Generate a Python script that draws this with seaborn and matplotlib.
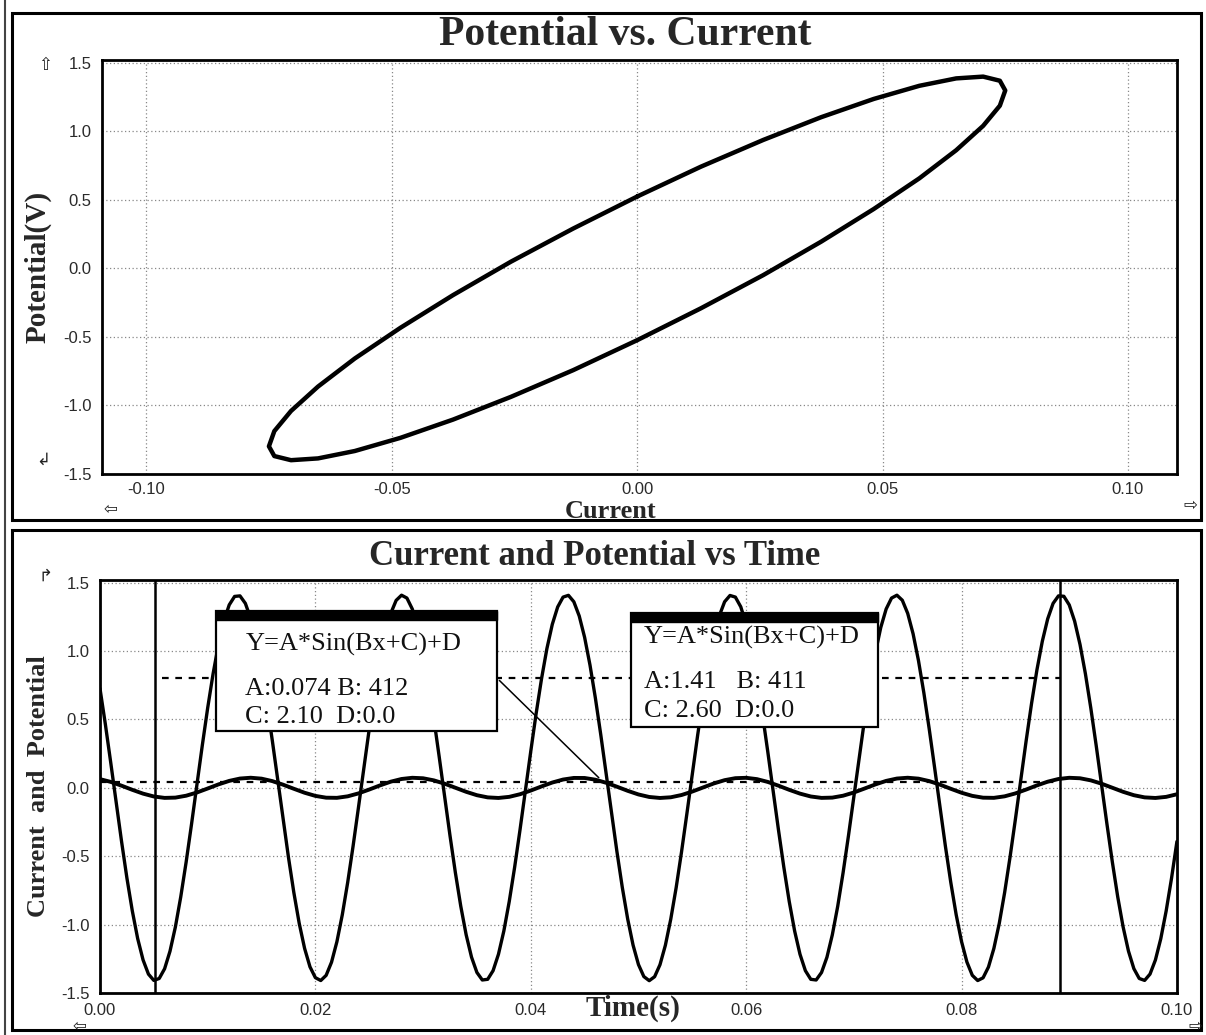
import matplotlib
matplotlib.use("Agg")
import matplotlib.pyplot as plt
from matplotlib.patches import Rectangle
import pandas as pd
import seaborn as sns

# --- top panel: potential vs current loop ---
loop_current = [0.0, 0.0130, 0.0257, 0.0375, 0.0482, 0.0575, 0.0650, 0.0705, 0.0739, 0.0750,
                0.0739, 0.0705, 0.0650, 0.0575, 0.0482, 0.0375, 0.0257, 0.0130, 0.0,
                -0.0130, -0.0257, -0.0375, -0.0482, -0.0575, -0.0650, -0.0705, -0.0739, -0.0750,
                -0.0739, -0.0705, -0.0650, -0.0575, -0.0482, -0.0375, -0.0257, -0.0130, 0.0]
loop_potential = [0.524, 0.742, 0.937, 1.103, 1.236, 1.332, 1.386, 1.399, 1.369, 1.298,
                  1.187, 1.040, 0.862, 0.657, 0.433, 0.195, -0.049, -0.291, -0.524,
                  -0.742, -0.937, -1.103, -1.236, -1.332, -1.386, -1.399, -1.369, -1.298,
                  -1.187, -1.040, -0.862, -0.657, -0.433, -0.195, 0.049, 0.291, 0.524]

# --- bottom panel: current and potential vs time ---
# readings at whole milliseconds
time_s = [0.000, 0.001, 0.002, 0.003, 0.004, 0.005, 0.006, 0.007, 0.008, 0.009,
          0.010, 0.011, 0.012, 0.013, 0.014, 0.015, 0.016, 0.017, 0.018, 0.019,
          0.020, 0.021, 0.022, 0.023, 0.024, 0.025, 0.026, 0.027, 0.028, 0.029,
          0.030, 0.031, 0.032, 0.033, 0.034, 0.035, 0.036, 0.037, 0.038, 0.039,
          0.040, 0.041, 0.042, 0.043, 0.044, 0.045, 0.046, 0.047, 0.048, 0.049,
          0.050, 0.051, 0.052, 0.053, 0.054, 0.055, 0.056, 0.057, 0.058, 0.059,
          0.060, 0.061, 0.062, 0.063, 0.064, 0.065, 0.066, 0.067, 0.068, 0.069,
          0.070, 0.071, 0.072, 0.073, 0.074, 0.075, 0.076, 0.077, 0.078, 0.079,
          0.080, 0.081, 0.082, 0.083, 0.084, 0.085, 0.086, 0.087, 0.088, 0.089,
          0.090, 0.091, 0.092, 0.093, 0.094, 0.095, 0.096, 0.097, 0.098, 0.099,
          0.100]
potential_v = [0.727, 0.184, -0.390, -0.899, -1.258, -1.408, -1.323, -1.018, -0.543, 0.022,
               0.584, 1.048, 1.338, 1.404, 1.237, 0.864, 0.347, -0.228, -0.765, -1.174,
               -1.388, -1.371, -1.125, -0.692, -0.144, 0.429, 0.930, 1.276, 1.409, 1.308,
               0.989, 0.506, -0.062, -0.620, -1.074, -1.350, -1.400, -1.217, -0.832, -0.308,
               0.267, 0.798, 1.196, 1.395, 1.361, 1.101, 0.657, 0.104, -0.466, -0.959,
               -1.292, -1.410, -1.293, -0.960, -0.468, 0.102, 0.656, 1.100, 1.361, 1.395,
               1.197, 0.799, 0.269, -0.307, -0.831, -1.217, -1.400, -1.350, -1.075, -0.621,
               -0.064, 0.504, 0.988, 1.308, 1.409, 1.276, 0.931, 0.430, -0.142, -0.691,
               -1.124, -1.371, -1.389, -1.175, -0.766, -0.230, 0.345, 0.863, 1.236, 1.404,
               1.338, 1.049, 0.585, 0.024, -0.541, -1.016, -1.322, -1.408, -1.259, -0.900,
               -0.392]
current_a = [0.0639, 0.0436, 0.0160, -0.0143, -0.0422, -0.0630, -0.0733, -0.0713, -0.0574, -0.0339,
             -0.0047, 0.0253, 0.0510, 0.0682, 0.0740, 0.0674, 0.0495, 0.0233, -0.0067, -0.0357,
             -0.0587, -0.0718, -0.0729, -0.0619, -0.0405, -0.0123, 0.0180, 0.0452, 0.0649, 0.0737,
             0.0702, 0.0549, 0.0304, 0.0009, -0.0288, -0.0537, -0.0696, -0.0738, -0.0657, -0.0466,
             -0.0197, 0.0105, 0.0390, 0.0609, 0.0726, 0.0722, 0.0597, 0.0372, 0.0085, -0.0216,
             -0.0482, -0.0666, -0.0739, -0.0689, -0.0523, -0.0269, 0.0029, 0.0323, 0.0563, 0.0708,
             0.0735, 0.0639, 0.0436, 0.0160, -0.0143, -0.0421, -0.0630, -0.0733, -0.0713, -0.0574,
             -0.0339, -0.0047, 0.0252, 0.0510, 0.0682, 0.0740, 0.0674, 0.0495, 0.0234, -0.0067,
             -0.0357, -0.0586, -0.0718, -0.0730, -0.0619, -0.0405, -0.0123, 0.0180, 0.0452, 0.0649,
             0.0737, 0.0702, 0.0549, 0.0305, 0.0009, -0.0288, -0.0537, -0.0696, -0.0738, -0.0658,
             -0.0467]
# extra potential readings at the half milliseconds (the big wave bends fast)
time_half_s = [0.0005, 0.0015, 0.0025, 0.0035, 0.0045, 0.0055, 0.0065, 0.0075, 0.0085, 0.0095,
               0.0105, 0.0115, 0.0125, 0.0135, 0.0145, 0.0155, 0.0165, 0.0175, 0.0185, 0.0195,
               0.0205, 0.0215, 0.0225, 0.0235, 0.0245, 0.0255, 0.0265, 0.0275, 0.0285, 0.0295,
               0.0305, 0.0315, 0.0325, 0.0335, 0.0345, 0.0355, 0.0365, 0.0375, 0.0385, 0.0395,
               0.0405, 0.0415, 0.0425, 0.0435, 0.0445, 0.0455, 0.0465, 0.0475, 0.0485, 0.0495,
               0.0505, 0.0515, 0.0525, 0.0535, 0.0545, 0.0555, 0.0565, 0.0575, 0.0585, 0.0595,
               0.0605, 0.0615, 0.0625, 0.0635, 0.0645, 0.0655, 0.0665, 0.0675, 0.0685, 0.0695,
               0.0705, 0.0715, 0.0725, 0.0735, 0.0745, 0.0755, 0.0765, 0.0775, 0.0785, 0.0795,
               0.0805, 0.0815, 0.0825, 0.0835, 0.0845, 0.0855, 0.0865, 0.0875, 0.0885, 0.0895,
               0.0905, 0.0915, 0.0925, 0.0935, 0.0945, 0.0955, 0.0965, 0.0975, 0.0985, 0.0995]
potential_half_v = [0.465, -0.106, -0.659, -1.102, -1.362, -1.394, -1.195, -0.797, -0.266, 0.310,
                    0.833, 1.219, 1.400, 1.349, 1.073, 0.618, 0.061, -0.507, -0.991, -1.309,
                    -1.409, -1.275, -0.928, -0.427, 0.145, 0.694, 1.127, 1.371, 1.388, 1.174,
                    0.764, 0.226, -0.349, -0.865, -1.238, -1.405, -1.337, -1.047, -0.582, -0.021,
                    0.544, 1.019, 1.323, 1.408, 1.257, 0.898, 0.389, -0.185, -0.728, -1.150,
                    -1.380, -1.381, -1.151, -0.730, -0.187, 0.387, 0.897, 1.257, 1.407, 1.324,
                    1.020, 0.546, -0.019, -0.581, -1.046, -1.337, -1.405, -1.239, -0.867, -0.350,
                    0.225, 0.762, 1.173, 1.388, 1.372, 1.127, 0.695, 0.147, -0.426, -0.927,
                    -1.274, -1.409, -1.310, -0.992, -0.508, 0.059, 0.617, 1.072, 1.349, 1.401,
                    1.219, 0.835, 0.311, -0.264, -0.796, -1.194, -1.394, -1.362, -1.103, -0.660]

# cursors, delta markers and fit boxes shown on the time plot
cursor_times = [0.0051, 0.0891]
delta_levels = [0.80, 0.04]
delta_starts = [0.0058, 0.0]
fit_current = ["Y=A*Sin(Bx+C)+D", "A:0.074 B: 412", "C: 2.10  D:0.0"]
fit_potential = ["Y=A*Sin(Bx+C)+D", "A:1.41   B: 411", "C: 2.60  D:0.0"]
leader_from = (0.0369, 0.80)
leader_to = (0.0465, 0.06)

top_xticks = [-0.10, -0.05, 0.00, 0.05, 0.10]
bottom_xticks = [0.00, 0.02, 0.04, 0.06, 0.08, 0.10]
yticks = [-1.5, -1.0, -0.5, 0.0, 0.5, 1.0, 1.5]

sns.set_theme(style="white")
plt.rcParams['font.family'] = ['Liberation Sans', 'DejaVu Sans']

fig = plt.figure(figsize=(12.06, 10.35), dpi=100)
ax1 = fig.add_axes([0.0846, 0.542, 0.8914, 0.400])
ax2 = fig.add_axes([0.0829, 0.0406, 0.893, 0.399])

serif = 'Liberation Serif'
tick_kw = dict(labelsize=12, labelcolor='#2a2a2a', length=4, width=1.2, color='black', direction='out')

# ----- top panel -----
loop = pd.DataFrame({'Current': loop_current, 'Potential': loop_potential})
sns.lineplot(data=loop, x='Current', y='Potential', sort=False, estimator=None,
             color='black', linewidth=3.2, ax=ax1)
ax1.set_xlim(-0.109, 0.110)
ax1.set_ylim(-1.5, 1.52)
ax1.set_xticks(top_xticks)
ax1.set_xticklabels([f"{v:.2f}" for v in top_xticks])
ax1.set_yticks(yticks)
ax1.set_yticklabels([f"{v:.1f}" for v in yticks])
ax1.set_xlabel('')
ax1.set_ylabel('Potential(V)', family=serif, weight='bold', fontsize=21, labelpad=8)

# ----- bottom panel -----
volt = pd.concat([pd.DataFrame({'Time': time_s, 'Potential': potential_v}),
                  pd.DataFrame({'Time': time_half_s, 'Potential': potential_half_v})])
curr = pd.DataFrame({'Time': time_s, 'Current': current_a})
sns.lineplot(data=volt, x='Time', y='Potential', color='black', linewidth=2.4, ax=ax2)
sns.lineplot(data=curr, x='Time', y='Current', color='black', linewidth=2.8, ax=ax2)
ax2.set_xlim(0.0, 0.1)
ax2.set_ylim(-1.5, 1.52)
ax2.set_xticks(bottom_xticks)
ax2.set_xticklabels([f"{v:.2f}" for v in bottom_xticks])
ax2.set_yticks(yticks)
ax2.set_yticklabels([f"{v:.1f}" for v in yticks])
ax2.set_xlabel('')
ax2.set_ylabel('Current  and  Potential', family=serif, weight='bold', fontsize=19, labelpad=8)

for t in cursor_times:
    ax2.axvline(t, color='black', linewidth=1.8, zorder=3)
for lvl, start in zip(delta_levels, delta_starts):
    ax2.hlines(lvl, start, cursor_times[1], colors='black', linewidth=1.6,
               linestyles=(0, (3, 3)), zorder=3)
ax2.annotate('', xy=leader_to, xytext=leader_from,
             arrowprops=dict(arrowstyle='-', color='black', lw=1.1), zorder=4)


def fit_box(ax, x0, x1, y0, y1, lines, tx, tys):
    ax.add_patch(Rectangle((x0, y0), x1 - x0, y1 - y0, transform=ax.transAxes,
                           facecolor='white', edgecolor='black', linewidth=1.6, zorder=6))
    ax.add_patch(Rectangle((x0, y1 - 0.022), x1 - x0, 0.022, transform=ax.transAxes,
                           facecolor='black', edgecolor='black', linewidth=1.0, zorder=7))
    for txt, ty in zip(lines, tys):
        ax.text(tx, ty, txt, transform=ax.transAxes, family=serif, fontsize=19,
                color='#111111', va='baseline', ha='left', zorder=8)


fit_box(ax2, 0.108, 0.369, 0.634, 0.925, fit_current, 0.135, [0.830, 0.722, 0.654])
fit_box(ax2, 0.493, 0.722, 0.644, 0.920, fit_potential, 0.505, [0.847, 0.738, 0.668])

for ax in (ax1, ax2):
    ax.grid(True, linestyle=(0, (1, 2)), color='#888888', linewidth=0.9)
    ax.tick_params(axis='both', **tick_kw)
    for s in ax.spines.values():
        s.set_color('black')
        s.set_linewidth(2.0)
ax1.tick_params(axis='x', pad=1.5)

# titles and x labels
fig.text(0.518, 0.966, 'Potential vs. Current', family=serif, weight='bold',
         fontsize=30, ha='center', va='center')
fig.text(0.493, 0.462, 'Current and Potential vs Time', family=serif, weight='bold',
         fontsize=25, ha='center', va='center')
fig.text(0.506, 0.506, 'Current', family=serif, weight='bold', fontsize=19,
         ha='center', va='center')
fig.text(0.525, 0.026, 'Time(s)', family=serif, weight='bold', fontsize=21,
         ha='center', va='center')

# little scroll arrows around the axes
arrow_kw = dict(family='DejaVu Sans', fontsize=12, ha='center', va='center', color='#222222')
fig.text(0.037, 0.937, '\u21e7', **arrow_kw)
fig.text(0.036, 0.556, '\u21b2', **arrow_kw)
fig.text(0.092, 0.508, '\u21e6', **arrow_kw)
fig.text(0.987, 0.512, '\u21e8', **arrow_kw)
fig.text(0.038, 0.444, '\u21b1', **arrow_kw)
fig.text(0.066, 0.0085, '\u21e6', **arrow_kw)
fig.text(0.991, 0.0085, '\u21e8', **arrow_kw)

# panel frames
fig.patches.append(Rectangle((0.0100, 0.4976), 0.9860, 0.4898, transform=fig.transFigure,
                             fill=False, edgecolor='black', linewidth=2.2))
fig.patches.append(Rectangle((0.0100, 0.0048), 0.9860, 0.4832, transform=fig.transFigure,
                             fill=False, edgecolor='black', linewidth=2.2))
fig.add_artist(plt.Line2D([0.004, 0.004], [0.0, 1.0], transform=fig.transFigure,
                          color='#444444', linewidth=1.5))

fig.savefig('out.png', dpi=100, facecolor='white')
